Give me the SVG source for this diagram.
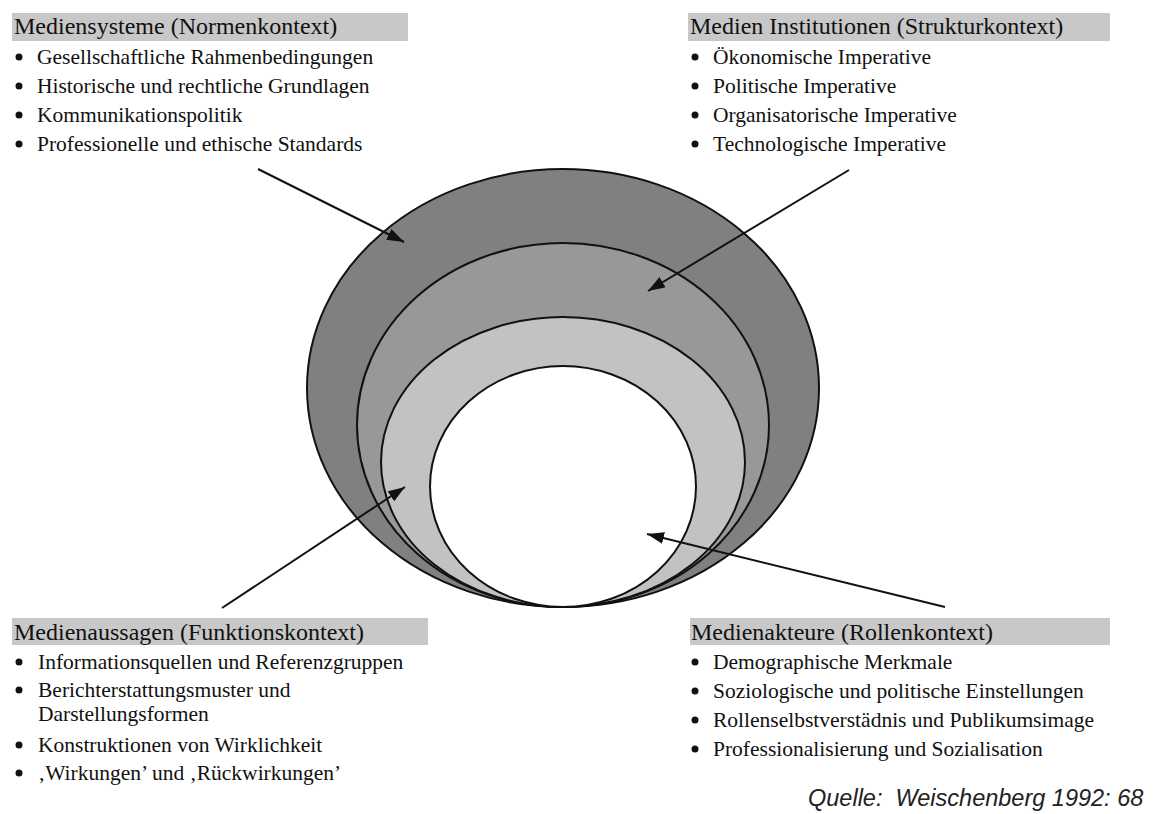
<svg xmlns="http://www.w3.org/2000/svg" width="1155" height="814" viewBox="0 0 1155 814">
<style>
.bar{fill:#c8c8c8}
.hd{font-family:"Liberation Serif","Times New Roman",serif;font-size:24px;fill:#111}
.it{font-family:"Liberation Serif","Times New Roman",serif;font-size:21.5px;fill:#111}
.dot{fill:#111}
.ring{stroke:#111;stroke-width:2}
.arr{stroke:#111;stroke-width:2;fill:none;marker-end:url(#ah)}
.src{font-family:"Liberation Sans",Arial,sans-serif;font-style:italic;font-size:23.5px;fill:#222;white-space:pre}
</style>
<defs>
<marker id="ah" markerUnits="userSpaceOnUse" markerWidth="18" markerHeight="12" refX="17" refY="6" orient="auto">
<path d="M0,0 L17,6 L0,12 z" fill="#111"/>
</marker>
</defs>
<rect width="1155" height="814" fill="#fff"/>
<g id="rings">
<ellipse id="ring-outer" class="ring" cx="563" cy="388" rx="256" ry="219" fill="#808080"/>
<ellipse id="ring-2" class="ring" cx="563" cy="425" rx="206" ry="182" fill="#989898"/>
<ellipse id="ring-3" class="ring" cx="563" cy="462" rx="182" ry="145" fill="#c2c2c2"/>
<ellipse id="ring-inner" class="ring" cx="563" cy="486.5" rx="133" ry="120.5" fill="#ffffff"/>
</g>
<g id="connectors">
<line class="arr" x1="258" y1="169" x2="404" y2="242"/>
<line class="arr" x1="849" y1="170" x2="648" y2="291"/>
<line class="arr" x1="222" y1="608" x2="405" y2="487"/>
<line class="arr" x1="945" y1="607" x2="647" y2="534"/>
</g>
<g id="mediensysteme">
<rect class="bar" x="12" y="13" width="396" height="28"/>
<text class="hd" x="14" y="34">Mediensysteme (Normenkontext)</text>
<circle class="dot" cx="19" cy="57" r="3.5"/><text class="it" x="37" y="64">Gesellschaftliche Rahmenbedingungen</text>
<circle class="dot" cx="19" cy="86" r="3.5"/><text class="it" x="37" y="93">Historische und rechtliche Grundlagen</text>
<circle class="dot" cx="19" cy="115" r="3.5"/><text class="it" x="37" y="122">Kommunikationspolitik</text>
<circle class="dot" cx="19" cy="144" r="3.5"/><text class="it" x="37" y="151">Professionelle und ethische Standards</text>
</g>
<g id="medieninstitutionen">
<rect class="bar" x="688" y="13" width="422" height="28"/>
<text class="hd" x="690" y="34">Medien Institutionen (Strukturkontext)</text>
<circle class="dot" cx="695" cy="57" r="3.5"/><text class="it" x="713" y="64">Ökonomische Imperative</text>
<circle class="dot" cx="695" cy="86" r="3.5"/><text class="it" x="713" y="93">Politische Imperative</text>
<circle class="dot" cx="695" cy="115" r="3.5"/><text class="it" x="713" y="122">Organisatorische Imperative</text>
<circle class="dot" cx="695" cy="144" r="3.5"/><text class="it" x="713" y="151">Technologische Imperative</text>
</g>
<g id="medienaussagen">
<rect class="bar" x="12" y="618" width="416" height="27"/>
<text class="hd" x="14" y="640">Medienaussagen (Funktionskontext)</text>
<circle class="dot" cx="19" cy="662" r="3.5"/><text class="it" x="38" y="669">Informationsquellen und Referenzgruppen</text>
<circle class="dot" cx="19" cy="690" r="3.5"/><text class="it" x="38" y="697">Berichterstattungsmuster und</text>
<text class="it" x="38" y="721">Darstellungsformen</text>
<circle class="dot" cx="19" cy="745" r="3.5"/><text class="it" x="38" y="752">Konstruktionen von Wirklichkeit</text>
<circle class="dot" cx="19" cy="773" r="3.5"/><text class="it" x="38" y="780">‚Wirkungen’ und ‚Rückwirkungen’</text>
</g>
<g id="medienakteure">
<rect class="bar" x="690" y="618" width="420" height="27"/>
<text class="hd" x="691" y="640">Medienakteure (Rollenkontext)</text>
<circle class="dot" cx="695" cy="662" r="3.5"/><text class="it" x="713" y="669">Demographische Merkmale</text>
<circle class="dot" cx="695" cy="691" r="3.5"/><text class="it" x="713" y="698">Soziologische und politische Einstellungen</text>
<circle class="dot" cx="695" cy="720" r="3.5"/><text class="it" x="713" y="727">Rollenselbstverstädnis und Publikumsimage</text>
<circle class="dot" cx="695" cy="749" r="3.5"/><text class="it" x="713" y="756">Professionalisierung und Sozialisation</text>
</g>
<g id="quelle">
<text class="src" x="808" y="806" xml:space="preserve">Quelle:  Weischenberg 1992: 68</text>
</g>
</svg>
